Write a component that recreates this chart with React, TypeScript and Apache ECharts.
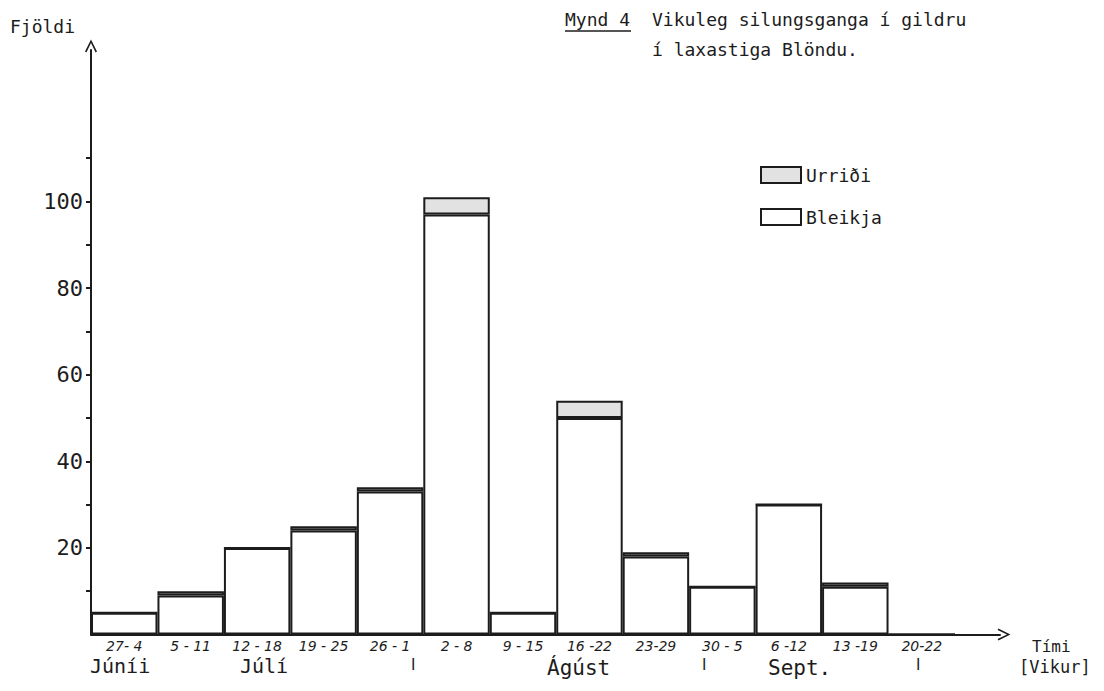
import React, { useEffect, useRef } from "react";
import * as echarts from "echarts";

// ---- data ----
const weeks = ["27- 4", "5 - 11", "12 - 18", "19 - 25", "26 - 1", "2 - 8", "9 - 15", "16 -22", "23-29", "30 - 5", "6 -12", "13 -19", "20-22"];
const bleikja = [5, 9, 20, 24, 33, 97, 5, 50, 18, 11, 30, 11, 0];
const urridi = [0, 1, 0, 1, 1, 4, 0, 4, 1, 0, 0, 1, 0];
const yTickValues = [10, 20, 30, 40, 50, 60, 70, 80, 90, 100, 110];
const yLabelValues = [20, 40, 60, 80, 100];
const months = ["Júníi", "Júlí", "Ágúst", "Sept."];
const seriesNames = ["Urriði", "Bleikja"];

const INK = "#1c1c1c";
const FONT = "DejaVu Sans";
const MONO = "DejaVu Sans Mono";

export default function App() {
  const ref = useRef<HTMLDivElement>(null);
  useEffect(() => {
    if (!ref.current) return;
    const chart = echarts.init(ref.current, null, { renderer: "svg" });
    const arrowPath = "path://M0,12 L6,0 L12,12 L10.6,12.8 L6,3.4 L1.4,12.8 Z";
    const option: any = {
      animation: false,
      backgroundColor: "#ffffff",
      grid: [
        { left: 91, right: 104, top: 50, bottom: 56.5 },
        { left: 91, width: 864, top: 50, bottom: 56.5 },
      ],
      xAxis: [
        {
          type: "value",
          gridIndex: 0,
          min: 0,
          max: 1,
          axisLine: { show: true, lineStyle: { color: INK, width: 2 }, symbol: ["none", arrowPath], symbolSize: [12, 14], symbolOffset: [0, 4] },
          axisTick: { show: false },
          axisLabel: { show: false },
          splitLine: { show: false },
        },
        {
          type: "category",
          gridIndex: 1,
          data: weeks,
          axisLine: { show: false },
          axisTick: { show: false },
          axisLabel: { color: INK, fontFamily: FONT, fontStyle: "italic", fontSize: 14, margin: 4, interval: 0 },
        },
      ],
      yAxis: [
        {
          type: "value",
          gridIndex: 0,
          min: 0,
          max: 135,
          axisLine: { show: true, lineStyle: { color: INK, width: 2 }, symbol: ["none", arrowPath], symbolSize: [12, 14], symbolOffset: [0, 4] },
          axisTick: { show: true, length: 5, lineStyle: { color: INK, width: 2 }, customValues: yTickValues },
          axisLabel: { color: INK, fontFamily: MONO, fontSize: 22, margin: 8, customValues: yLabelValues },
          splitLine: { show: false },
        },
        {
          type: "value",
          gridIndex: 1,
          min: 0,
          max: 135,
          show: false,
        },
      ],
      legend: {
        data: seriesNames,
        orient: "vertical",
        left: 760,
        top: 166,
        icon: "rect",
        itemWidth: 40,
        itemHeight: 16,
        itemGap: 24,
        padding: 0,
        textStyle: { color: INK, fontFamily: MONO, fontSize: 18 },
      },
      series: [
        {
          name: seriesNames[1],
          type: "bar",
          xAxisIndex: 1,
          yAxisIndex: 1,
          stack: "t",
          data: bleikja,
          barCategoryGap: "0%",
          itemStyle: { color: "#ffffff", borderColor: INK, borderWidth: 2 },
        },
        {
          name: seriesNames[0],
          type: "bar",
          xAxisIndex: 1,
          yAxisIndex: 1,
          stack: "t",
          data: urridi,
          barCategoryGap: "0%",
          itemStyle: { color: "#e2e2e2", borderColor: INK, borderWidth: 2 },
        },
      ],
      graphic: [
        { type: "text", left: 10, top: 17, style: { text: "Fjöldi", fill: INK, font: `18px "${MONO}"` } },
        { type: "text", left: 565, top: 10, style: { text: "Mynd 4", fill: INK, font: `18px "${MONO}"` } },
        { type: "line", shape: { x1: 565, y1: 31, x2: 631, y2: 31 }, style: { stroke: INK, lineWidth: 1.5 } },
        { type: "text", left: 652, top: 10, style: { text: "Vikuleg silungsganga í gildru", fill: INK, font: `18px "${MONO}"` } },
        { type: "text", left: 652, top: 40, style: { text: "í laxastiga Blöndu.", fill: INK, font: `18px "${MONO}"` } },
        { type: "text", left: 90, top: 656, style: { text: months[0], fill: INK, font: `20px "${MONO}"` } },
        { type: "text", left: 240, top: 656, style: { text: months[1], fill: INK, font: `20px "${MONO}"` } },
        { type: "text", left: 547, top: 657, style: { text: months[2], fill: INK, font: `21px "${MONO}"` } },
        { type: "text", left: 768, top: 657, style: { text: months[3], fill: INK, font: `21px "${MONO}"` } },
        { type: "text", left: 411, top: 657, style: { text: "I", fill: INK, font: `15px "${FONT}"` } },
        { type: "text", left: 702, top: 657, style: { text: "I", fill: INK, font: `15px "${FONT}"` } },
        { type: "text", left: 916, top: 657, style: { text: "I", fill: INK, font: `15px "${FONT}"` } },
        { type: "text", left: 1032, top: 638, style: { text: "Tími", fill: INK, font: `16px "${MONO}"` } },
        { type: "text", left: 1019, top: 658, style: { text: "[Vikur]", fill: INK, font: `17px "${MONO}"` } },
      ],
    };
    chart.setOption(option);
    return () => chart.dispose();
  }, []);
  return <div ref={ref} style={{ position: "fixed", left: 0, top: 0, width: 1104, height: 691, background: "#fff" }} />;
}
